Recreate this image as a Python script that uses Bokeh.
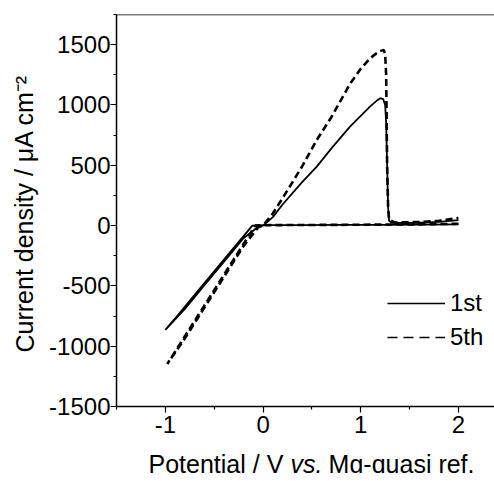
from bokeh.plotting import figure
from bokeh.layouts import column
from bokeh.models import FixedTicker, Label, Legend, LegendItem, Span, Range1d
from bokeh.embed import file_html
from bokeh.resources import INLINE

# ---- data ----
x_ticks = [-1, 0, 1, 2]
x_tick_labels = ["-1", "0", "1", "2"]
x_minor = [-1.5, -0.5, 0.5, 1.5]
y_ticks = [-1500, -1000, -500, 0, 500, 1000, 1500]
y_tick_labels = ["-1500", "-1000", "-500", "0", "500", "1000", "1500"]
y_minor = [-1250, -750, -250, 250, 750, 1250, 1750]

# 1st cycle (solid)
pot_1st = [2.0, 1.6, 1.2, 0.8, 0.4, 0.0, -0.11, -0.3, -0.5, -0.7, -0.9, -1.0,
           -0.8, -0.6, -0.4, -0.2, -0.05, 0.0, 0.1, 0.2, 0.4, 0.55, 0.7, 0.89,
           1.0, 1.1, 1.17, 1.2, 1.23, 1.25, 1.26, 1.27, 1.28, 1.29, 1.32, 1.6, 1.8, 2.0]
cur_1st = [10, 8, 6, 5, 4, 3, 0, -185, -380, -575, -770, -865,
           -690, -495, -300, -105, -10, 0, 70, 175, 360, 489, 640, 821,
           910, 990, 1040, 1056, 1048, 1000, 850, 500, 150, 40, 22, 25, 30, 45]

# 5th cycle (dashed)
pot_5th = [2.0, 1.6, 1.2, 0.8, 0.4, 0.0, -0.08, -0.3, -0.5, -0.7, -0.9, -0.98,
           -0.8, -0.6, -0.4, -0.2, -0.05, 0.0, 0.1, 0.21, 0.4, 0.55, 0.7, 0.89,
           1.0, 1.1, 1.18, 1.235, 1.25, 1.26, 1.265, 1.27, 1.28, 1.29, 1.35, 1.6, 1.8, 2.0]
cur_5th = [15, 10, 8, 6, 5, 3, 0, -280, -535, -790, -1045, -1147,
           -935, -680, -425, -170, -15, 0, 100, 240, 490, 710, 900, 1175,
           1300, 1390, 1440, 1457, 1420, 1250, 900, 500, 150, 50, 25, 30, 40, 63]

legend_labels = ["1st", "5th"]
x_title = ["Potential / V", "vs.", "Mg-quasi ref."]
y_title = "Current density / \u03bcA cm\u207b\u00b2"

FONT = "Liberation Sans"
NAN = float("nan")

p = figure(width=494, height=442, output_backend="svg", toolbar_location=None,
           x_range=Range1d(-1.5, 2.369), y_range=Range1d(-1500, 1750),
           min_border_left=116, min_border_right=0, min_border_top=14,
           min_border_bottom=36, margin=(0, 0, 0, 0))
p.outline_line_color = None
p.grid.visible = False
p.background_fill_color = "white"
p.border_fill_color = "white"

p.line(pot_1st, cur_1st, line_color="black", line_width=1.8)
p.line(pot_5th, cur_5th, line_color="black", line_width=2.6, line_dash="7 4")

# legend-only renderers (nothing visible in the plot)
r1 = p.line(x=[NAN], y=[NAN], line_color="black", line_width=1.5)
r5 = p.line(x=[NAN], y=[NAN], line_color="black", line_width=1.5, line_dash="10 6")

legend = Legend(items=[LegendItem(label=legend_labels[0], renderers=[r1]),
                       LegendItem(label=legend_labels[1], renderers=[r5])],
                location=(271, 55), padding=0, margin=0, spacing=6,
                glyph_width=58, glyph_height=24, label_height=24,
                label_standoff=5, label_text_font=FONT,
                label_text_font_size="24px", label_text_color="black",
                background_fill_alpha=0, border_line_color=None)
p.add_layout(legend)

# top frame line
p.add_layout(Span(location=1750, dimension="width", line_color="black", line_width=1.5))

for ax, ticks, minor, labels, so in ((p.xaxis[0], x_ticks, x_minor, x_tick_labels, 3),
                                      (p.yaxis[0], y_ticks, y_minor, y_tick_labels, 0)):
    ax.ticker = FixedTicker(ticks=ticks, minor_ticks=minor)
    ax.major_label_overrides = {t: l for t, l in zip(ticks, labels)}
    ax.axis_line_width = 1.5
    ax.axis_line_color = "black"
    ax.major_tick_line_color = "black"
    ax.minor_tick_line_color = "black"
    ax.major_tick_line_width = 1.2
    ax.minor_tick_line_width = 1.2
    ax.major_tick_in = 0
    ax.minor_tick_in = 0
    ax.major_tick_out = 6
    ax.minor_tick_out = 3
    ax.major_label_text_font = FONT
    ax.major_label_text_font_size = "24px"
    ax.major_label_text_color = "black"
    ax.major_label_standoff = so

# ---- y title in the left side panel (not clipped) ----
p.add_layout(Label(x=6, y=54, x_units="screen", y_units="screen", angle=1.5708,
                   text=y_title, text_font=FONT,
                   text_font_size="25px", text_color="black",
                   text_baseline="alphabetic", text_align="left"), "left")

# ---- x title strip below (separate small figure so "vs." can be italic) ----
t = figure(width=494, height=31, output_backend="svg", toolbar_location=None,
           x_range=Range1d(0, 1), y_range=Range1d(0, 1),
           x_axis_type=None, y_axis_type=None, min_border=0, margin=(0, 0, 0, 0))
t.outline_line_color = None
t.grid.visible = False
t.background_fill_color = "white"
t.border_fill_color = "white"
common = dict(x_units="screen", y_units="screen", text_font=FONT,
              text_font_size="25px", text_color="black", text_baseline="alphabetic")
t.add_layout(Label(x=32, y=10, text=x_title[0], text_align="left", **common))
t.add_layout(Label(x=174, y=10, text=x_title[1], text_align="left",
                   text_font_style="italic", **common))
t.add_layout(Label(x=358, y=10, text=x_title[2], text_align="right", **common))

open("out.html", "w").write(file_html(column(p, t, spacing=0, margin=(0, 0, 0, 0)), INLINE))
